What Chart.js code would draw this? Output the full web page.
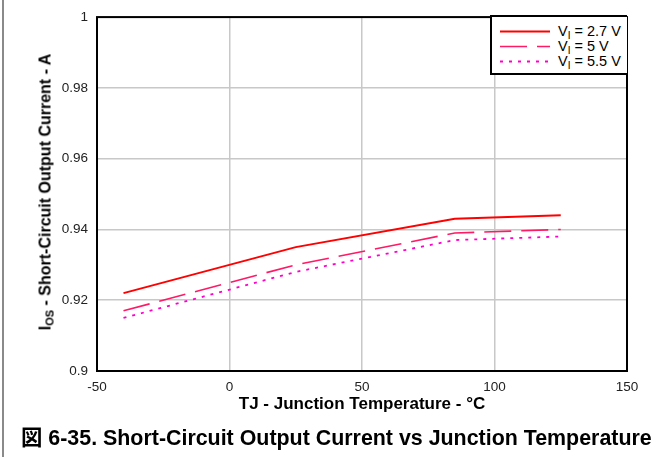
<!DOCTYPE html>
<html>
<head>
<meta charset="utf-8">
<script src="https://cdn.jsdelivr.net/npm/chart.js@4"></script>
<style>
  html, body { margin: 0; padding: 0; background: #fff; }
  #wrap { position: relative; width: 662px; height: 457px; overflow: hidden; font-family: Arial, "Liberation Sans", "Noto Sans CJK JP", sans-serif; }
  #wrap canvas { position: absolute; left: 0; top: 0; }
  #edge { position: absolute; left: 2px; top: 0; width: 2px; height: 457px; background: #8a8a8a; }
  #ytitle { position: absolute; left: 46px; top: 192px; transform: translate(-50%, -50%) rotate(-90deg); white-space: nowrap; font-weight: bold; font-size: 16px; color: #000; }
  #ytitle sub { font-size: 11px; vertical-align: -3px; }
  #legend sub { font-size: 10px; vertical-align: -3px; }
  #legend { position: absolute; left: 490px; top: 15px; width: 135px; height: 56px; border: 2px solid #000; border-right: none; background: #fff; }
  .row { position: absolute; left: 0; height: 15px; width: 135px; }
  .row svg { position: absolute; left: 8px; top: 0; }
  .row span { position: absolute; left: 66px; top: 0; font-size: 14.5px; line-height: 15px; color: #000; white-space: nowrap; }
  #caption { position: absolute; left: 21px; top: 425px; font-weight: bold; font-size: 21.4px; line-height: 26px; color: #000; white-space: nowrap; }
</style>
</head>
<body>
<div id="wrap">
  <canvas id="c" width="662" height="457"></canvas>
  <div id="edge"></div>
  <div id="ytitle">I<sub>OS</sub> - Short-Circuit Output Current - A</div>
  <div id="legend"></div>
  <div id="caption">図 6-35. Short-Circuit Output Current vs Junction Temperature</div>
</div>
<script>
// ---- data ----
const temps = [-40, 25, 85, 125];
const i27 = [0.922, 0.935, 0.943, 0.944];
const i5 = [0.917, 0.930, 0.939, 0.940];
const i55 = [0.915, 0.928, 0.937, 0.938];
const seriesLabels = ['2.7 V', '5 V', '5.5 V'];
const xTicks = [-50, 0, 50, 100, 150];
const yTicks = [0.9, 0.92, 0.94, 0.96, 0.98, 1];

const styles = [
  { color: '#ff0000', width: 2, dash: [] },
  { color: '#ff1a66', width: 1.6, dash: [27, 10] },
  { color: '#ff00cc', width: 1.8, dash: [3, 6] }
];
const values = [i27, i5, i55];

const datasets = values.map((v, k) => ({
  label: 'VI = ' + seriesLabels[k],
  data: temps.map((t, j) => ({ x: t, y: v[j] })),
  borderColor: styles[k].color,
  borderWidth: styles[k].width,
  borderDash: styles[k].dash,
  pointRadius: 0,
  fill: false,
  tension: 0
}));

// HTML legend with subscripts
const legend = document.getElementById('legend');
seriesLabels.forEach((lab, k) => {
  const row = document.createElement('div');
  row.className = 'row';
  row.style.top = (7 + k * 15) + 'px';
  const s = styles[k];
  row.innerHTML = '<svg width="50" height="15"><line x1="0" y1="7.5" x2="50" y2="7.5" stroke="' + s.color +
    '" stroke-width="' + s.width + '" stroke-dasharray="' + (s.dash.length ? s.dash.join(',') : 'none') + '"/></svg>' +
    '<span>V<sub>I</sub> = ' + lab + '</span>';
  legend.appendChild(row);
});

const frame = {
  id: 'frame',
  afterDraw(chart) {
    const a = chart.chartArea, ctx = chart.ctx;
    ctx.save();
    ctx.strokeStyle = '#000';
    ctx.lineWidth = 2;
    ctx.strokeRect(a.left, a.top, a.right - a.left, a.bottom - a.top);
    ctx.restore();
  }
};

new Chart(document.getElementById('c'), {
  type: 'line',
  data: { datasets },
  plugins: [frame],
  options: {
    responsive: false,
    animation: false,
    events: [],
    layout: { padding: { left: 0, top: 15, right: 35, bottom: 42 } },
    plugins: { legend: { display: false }, tooltip: { enabled: false } },
    scales: {
      x: {
        type: 'linear',
        min: xTicks[0], max: xTicks[xTicks.length - 1],
        afterBuildTicks(s) { s.ticks = xTicks.map(v => ({ value: v })); },
        afterFit(s) { s.height = 44; },
        grid: { color: '#c8c8c8', lineWidth: 1.5, drawTicks: false },
        border: { display: false },
        ticks: { color: '#222', font: { size: 13.5, family: 'Arial, "Liberation Sans"' }, padding: 8, maxRotation: 0,
                 callback: v => String(v) },
        title: { display: true, text: 'TJ - Junction Temperature - °C', color: '#000', font: { size: 17, weight: 'bold', family: 'Arial, "Liberation Sans"' }, padding: { top: -1, bottom: 0 } }
      },
      y: {
        type: 'linear',
        min: 0.9, max: 1,
        afterBuildTicks(s) { s.ticks = yTicks.map(v => ({ value: v })); },
        afterFit(s) { s.width = 97; },
        grid: { color: '#c8c8c8', lineWidth: 1.5, drawTicks: false },
        border: { display: false },
        ticks: { color: '#222', font: { size: 13.5, family: 'Arial, "Liberation Sans"' }, padding: 9,
                 callback: v => String(+v.toFixed(2)) }
      }
    }
  }
});
</script>
</body>
</html>
